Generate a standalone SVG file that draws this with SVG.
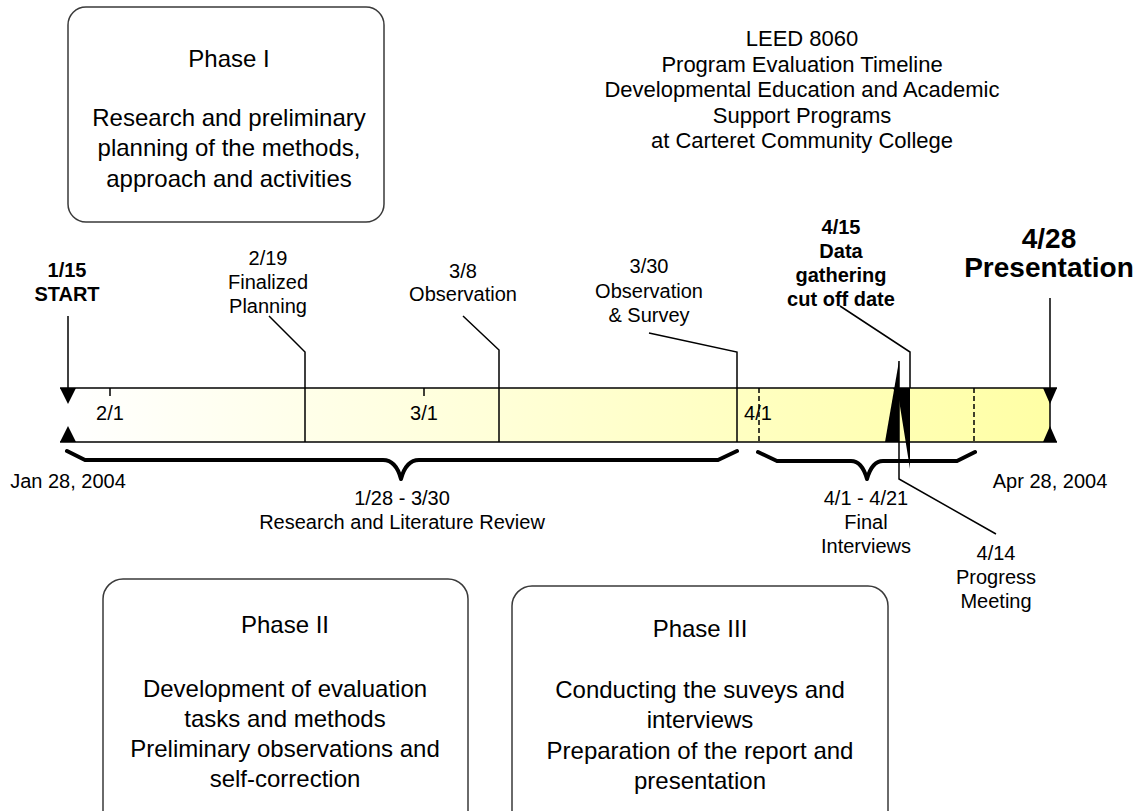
<svg xmlns="http://www.w3.org/2000/svg" width="1142" height="811" viewBox="0 0 1142 811">
<defs>
<linearGradient id="barGrad" x1="68" y1="0" x2="1050" y2="0" gradientUnits="userSpaceOnUse">
<stop offset="0" stop-color="#FFFFFF"/>
<stop offset="1" stop-color="#FFFFA5"/>
</linearGradient>
</defs>
<style>
text{font-family:"Liberation Sans",Arial,sans-serif;fill:#000;text-anchor:middle}
.t20{font-size:20px}
.b20{font-size:20px;font-weight:bold}
.b28{font-size:28px;font-weight:bold}
.t24{font-size:24px}
.t22{font-size:22px}
.box{fill:#fff;stroke:#3a3a3a;stroke-width:1.5}
.ln{stroke:#000;stroke-width:1.5;fill:none}
.dash{stroke:#000;stroke-width:1.5;stroke-dasharray:5,3;fill:none}
.brace{stroke:#000;stroke-width:4;fill:none;stroke-linecap:round;stroke-linejoin:round}
.blk{fill:#000;stroke:none}
</style>

<g id="title">
<text class="t22" x="802" y="46">LEED 8060</text>
<text class="t22" x="802" y="71.5">Program Evaluation Timeline</text>
<text class="t22" x="802" y="97">Developmental Education and Academic</text>
<text class="t22" x="802" y="122.5">Support Programs</text>
<text class="t22" x="802" y="148">at Carteret Community College</text>
</g>

<g id="phase1">
<rect class="box" x="68" y="7" width="316" height="215" rx="18"/>
<text class="t24" x="229" y="67">Phase I</text>
<text class="t24" x="229" y="126">Research and preliminary</text>
<text class="t24" x="229" y="156">planning of the methods,</text>
<text class="t24" x="229" y="187">approach and activities</text>
</g>

<g id="phase2">
<rect class="box" x="103" y="579" width="365" height="260" rx="20"/>
<text class="t24" x="285" y="633">Phase II</text>
<text class="t24" x="285" y="697">Development of evaluation</text>
<text class="t24" x="285" y="727">tasks and methods</text>
<text class="t24" x="285" y="757">Preliminary observations and</text>
<text class="t24" x="285" y="787">self-correction</text>
</g>

<g id="phase3">
<rect class="box" x="512" y="586" width="376" height="260" rx="20"/>
<text class="t24" x="700" y="637">Phase III</text>
<text class="t24" x="700" y="698">Conducting the suveys and</text>
<text class="t24" x="700" y="728">interviews</text>
<text class="t24" x="700" y="759">Preparation of the report and</text>
<text class="t24" x="700" y="789">presentation</text>
</g>

<g id="timeline-bar">
<rect x="68" y="388" width="982" height="54" fill="url(#barGrad)"/>
<line class="ln" x1="60" y1="388" x2="1057" y2="388"/>
<line class="ln" x1="60" y1="442" x2="1057" y2="442"/>
<line class="ln" x1="110" y1="388" x2="110" y2="396"/>
<line class="ln" x1="424" y1="388" x2="424" y2="396"/>
<text class="t20" x="110" y="420">2/1</text>
<text class="t20" x="424" y="420">3/1</text>
<text class="t20" x="758" y="420">4/1</text>
<line class="dash" x1="759" y1="388" x2="759" y2="442"/>
<line class="dash" x1="974" y1="388" x2="974" y2="442"/>
</g>

<g id="connectors">
<line class="ln" x1="68" y1="316" x2="68" y2="388"/>
<polygon class="blk" points="60,388 76,388 68,404"/>
<polygon class="blk" points="60,442 76,442 68,426"/>
<line class="ln" x1="1050" y1="298" x2="1050" y2="442"/>
<polygon class="blk" points="1043,388 1057,388 1050,404"/>
<polygon class="blk" points="1043,442 1057,442 1050,426"/>
<polyline class="ln" points="269,316 305,352 305,442"/>
<polyline class="ln" points="463,316 499,350 499,442"/>
<polyline class="ln" points="649,333 737,352 737,442"/>
<polyline class="ln" points="840,306 910,352 910,388"/>
<polyline class="ln" points="899,361 899,479 996,534"/>
<polygon class="blk" points="899,361 885,442 899,442"/>
<polygon class="blk" points="893,388 910,388 910,469 899,400"/>
<path class="brace" d="M67,451 L85,460 L383,460 Q396,460 401,479 Q406,460 419,460 L718,460 L737,451"/>
<path class="brace" d="M758,452 L777,461 L851,461 Q862,461 867,479 Q872,461 883,461 L957,461 L975,452"/>
</g>

<g id="label-start">
<text class="b20" x="67" y="277">1/15</text>
<text class="b20" x="67" y="301">START</text>
</g>
<g id="label-219">
<text class="t20" x="268" y="265">2/19</text>
<text class="t20" x="268" y="289">Finalized</text>
<text class="t20" x="268" y="313">Planning</text>
</g>
<g id="label-38">
<text class="t20" x="463" y="278">3/8</text>
<text class="t20" x="463" y="301">Observation</text>
</g>
<g id="label-330">
<text class="t20" x="649" y="273">3/30</text>
<text class="t20" x="649" y="298">Observation</text>
<text class="t20" x="649" y="322">&amp; Survey</text>
</g>
<g id="label-415">
<text class="b20" x="841" y="234">4/15</text>
<text class="b20" x="841" y="258">Data</text>
<text class="b20" x="841" y="282">gathering</text>
<text class="b20" x="841" y="306">cut off date</text>
</g>
<g id="label-428">
<text class="b28" x="1049" y="248">4/28</text>
<text class="b28" x="1049" y="277">Presentation</text>
</g>
<g id="label-jan">
<text class="t20" x="68" y="488">Jan 28, 2004</text>
</g>
<g id="label-apr">
<text class="t20" x="1050" y="488">Apr 28, 2004</text>
</g>
<g id="label-research">
<text class="t20" x="402" y="505">1/28 - 3/30</text>
<text class="t20" x="402" y="529">Research and Literature Review</text>
</g>
<g id="label-interviews">
<text class="t20" x="866" y="505">4/1 - 4/21</text>
<text class="t20" x="866" y="529">Final</text>
<text class="t20" x="866" y="553">Interviews</text>
</g>
<g id="label-414">
<text class="t20" x="996" y="560">4/14</text>
<text class="t20" x="996" y="584">Progress</text>
<text class="t20" x="996" y="608">Meeting</text>
</g>
</svg>
